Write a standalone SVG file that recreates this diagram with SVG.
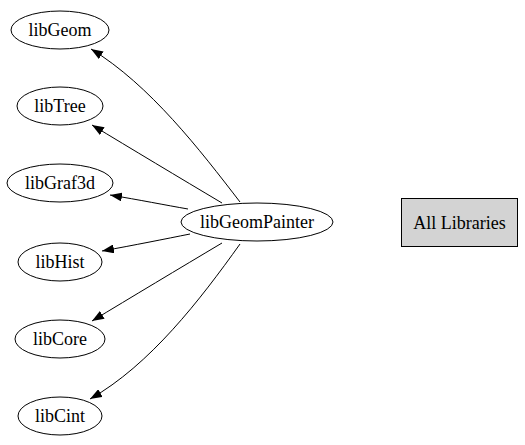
<svg xmlns="http://www.w3.org/2000/svg" width="525" height="445" viewBox="0 0 525 445">
<style>
.n ellipse{fill:#fff;stroke:#000;stroke-width:1}
.n text{font-family:"Liberation Serif",serif;font-size:18px;text-anchor:middle;fill:#000}
.e path{fill:none;stroke:#000;stroke-width:1}
</style>
<defs>
<marker id="ah" markerWidth="12" markerHeight="9" refX="12" refY="4.5" orient="auto" markerUnits="userSpaceOnUse">
<path d="M0,0 L12,4.5 L0,9 Z" fill="#000"/>
</marker>
</defs>
<rect width="525" height="445" fill="#fff"/>
<g id="edges" class="e">
<path d="M240,202 C200,150 150,85 91,49" marker-end="url(#ah)"/>
<path d="M222,203 C180,178 130,148 92,125" marker-end="url(#ah)"/>
<path d="M188,209 C165,205 140,200 110,195" marker-end="url(#ah)"/>
<path d="M190,234 C165,239 135,245 102,251" marker-end="url(#ah)"/>
<path d="M222,243 C180,268 130,298 92,321" marker-end="url(#ah)"/>
<path d="M240,244 C200,300 150,365 90,399" marker-end="url(#ah)"/>
</g>
<g id="libGeom" class="n"><ellipse cx="60" cy="30" rx="49" ry="19"/><text x="60" y="36">libGeom</text></g>
<g id="libTree" class="n"><ellipse cx="60" cy="106" rx="43" ry="19"/><text x="60" y="112">libTree</text></g>
<g id="libGraf3d" class="n"><ellipse cx="60" cy="183" rx="53" ry="19"/><text x="60" y="189">libGraf3d</text></g>
<g id="libHist" class="n"><ellipse cx="60" cy="262" rx="42" ry="19"/><text x="60" y="268">libHist</text></g>
<g id="libCore" class="n"><ellipse cx="60" cy="339" rx="45" ry="19"/><text x="60" y="345">libCore</text></g>
<g id="libCint" class="n"><ellipse cx="60" cy="416" rx="42" ry="19"/><text x="60" y="422">libCint</text></g>
<g id="libGeomPainter" class="n"><ellipse cx="257" cy="222" rx="76" ry="19"/><text x="257" y="228">libGeomPainter</text></g>
<g id="AllLibraries" class="n"><rect x="401.5" y="198.5" width="116" height="48" fill="#d3d3d3" stroke="#000"/><text x="459.5" y="229">All Libraries</text></g>
</svg>
